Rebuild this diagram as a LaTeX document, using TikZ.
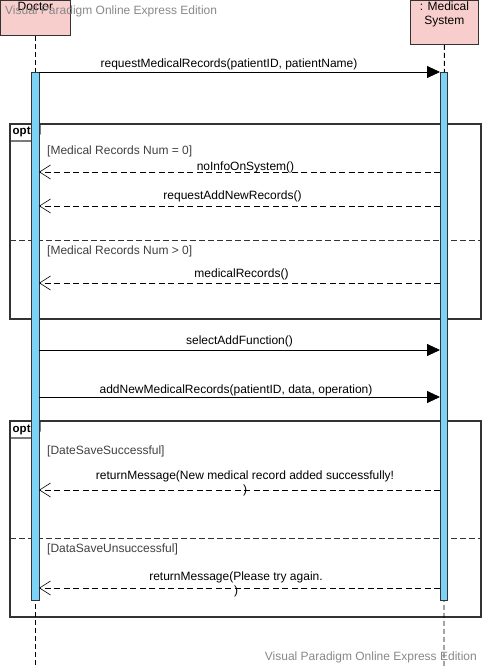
\documentclass[tikz,border=0pt]{standalone}
\usepackage{fontspec}
\setmainfont{Liberation Sans}
\usetikzlibrary{arrows.meta}
\usetikzlibrary{positioning}
\usetikzlibrary{calc}

\definecolor{boxpink}{RGB}{248,206,204}
\definecolor{barblue}{RGB}{125,211,247}
\definecolor{framegray}{RGB}{51,51,51}
\definecolor{markgray}{RGB}{136,136,136}

\begin{document}
\begin{tikzpicture}[x=1pt,y=-1pt,font=\fontsize{12}{14}\selectfont]
  \tikzset{
    lifebox/.style={draw=black!80,fill=boxpink,line width=0.8pt,inner sep=0pt,anchor=north west},
    lifeline/.style={black,dash pattern=on 5pt off 3pt,line width=0.8pt},
    actbar/.style={draw=black!80,fill=barblue,line width=0.8pt,inner sep=0pt,minimum width=7.5pt,anchor=north},
    callmsg/.style={-{Triangle[length=13pt,width=12pt]},line width=0.8pt},
    retmsg/.style={-{Straight Barb[length=11pt,width=14pt,line width=0.6pt]},dash pattern=on 6pt off 3.5pt,line width=0.8pt},
    guard/.style={text=black!75,anchor=base west,inner sep=0pt},
    msglbl/.style={anchor=base,inner sep=0pt},
    fragment/.style={draw=framegray,line width=1.1pt},
  }
  \useasboundingbox (0,0) rectangle (482,668);

  % combined fragments
  \foreach \n/\top/\sep/\bot in {1/124/240/319, 2/421/538/617} {
    \coordinate (opt\n nw) at (10,\top);
    \coordinate (opt\n se) at (481,\bot);
    \draw[fragment] (opt\n nw) rectangle (opt\n se);
    \draw[fragment] (opt\n nw) -- ++(30,0) -- ++(0,10) -- ++(-5,7) -- ++(-25,0);
    \node[anchor=base west,inner sep=0pt,font=\fontsize{11.5}{14}\selectfont\bfseries] (opt\n lbl) at ($(opt\n nw)+(2.5,11)$) {opt};
    \draw[fragment,line width=0.8pt,dash pattern=on 6pt off 3pt] (10,\sep) -- (481,\sep);
  }
  \node[guard] (g1) at (47,155) {[Medical Records Num = 0]};
  \node[guard] (g2) at (47,254) {[Medical Records Num > 0]};
  \node[guard] (g3) at (47,454) {[DateSaveSuccessful]};
  \node[guard] (g4) at (47,552) {[DataSaveUnsuccessful]};

  % lifelines
  \node[lifebox,minimum width=70pt,minimum height=35pt] (doctor) at (0,0) {};
  \node[below=2pt of doctor.north,inner sep=0pt] (doctorlbl) {Doctor};
  \node[lifebox,minimum width=68pt,minimum height=44pt] (system) at (410,0) {};
  \node[below=2pt of system.north,inner sep=0pt,align=center] (systemlbl) {: Medical\\System};
  \coordinate (doctorend) at (35.5,668);
  \coordinate (systemend) at (444,668);
  \draw[lifeline] (doctor.south -| doctorend) -- (doctorend);
  \draw[lifeline] (system) -- (systemend);
  \node[actbar,minimum height=528pt] (doctorbar) at (35.5,72) {};
  \node[actbar,minimum height=528pt] (systembar) at (444,72) {};

  % messages
  \foreach \i/\y in {1/72,2/172,3/206,4/283,5/350,6/397,7/490,8/588} {
    \coordinate (d\i) at (39,\y);
    \coordinate (s\i) at (440,\y);
  }
  \foreach \a/\b/\kind/\dx/\up/\txt in {
      d1/s1/callmsg/-10.5/4/{requestMedicalRecords(patientID, patientName)},
      s2/d2/retmsg/6/1/{noInfoOnSystem()},
      s3/d3/retmsg/-7/6.5/{requestAddNewRecords()},
      s4/d4/retmsg/2/5.5/{medicalRecords()},
      d5/s5/callmsg/0/5.5/{selectAddFunction()},
      d6/s6/callmsg/-3.5/4/{addNewMedicalRecords(patientID, data, operation)}} {
    \draw[\kind] (\a) -- node[msglbl,xshift=\dx pt,yshift=\up pt] {\txt} (\b);
  }
  \draw[retmsg] (s7) -- node[anchor=north,inner sep=0pt,align=center,xshift=5.5pt,yshift=19.5pt] (m7lbl)
    {returnMessage(New medical record added successfully!\\)} (d7);
  \draw[retmsg] (s8) -- node[anchor=north,inner sep=0pt,align=center,xshift=-3.5pt,yshift=17pt] (m8lbl)
    {returnMessage(Please try again.\\)} (d8);

  % watermark
  \node[anchor=base west,inner sep=0pt,text=markgray] (marktop) at (5,15) {Visual Paradigm Online Express Edition};
  \node[anchor=base east,inner sep=0pt,text=markgray] (markbot) at (477,660) {Visual Paradigm Online Express Edition};
\end{tikzpicture}
\end{document}
